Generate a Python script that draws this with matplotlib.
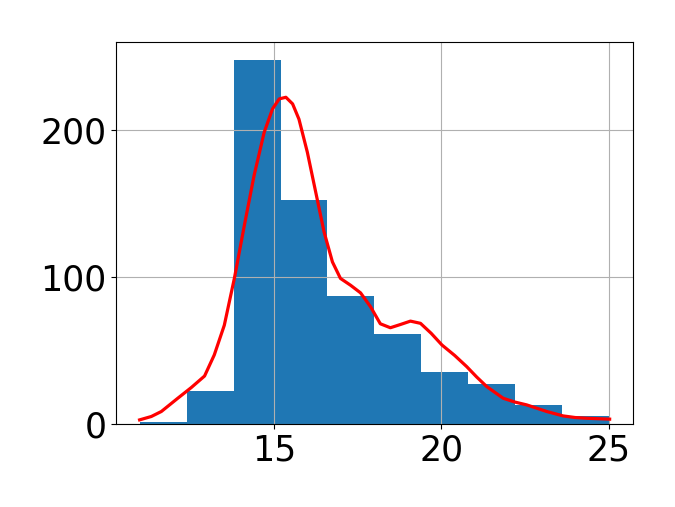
import matplotlib
matplotlib.use("Agg")
import matplotlib.pyplot as plt
import numpy as np

bin_edges = [11.0, 12.4, 13.8, 15.2, 16.6, 18.0, 19.4, 20.8, 22.2, 23.6, 25.0]
counts = [1, 22, 247, 152, 87, 61, 35, 27, 13, 5]

curve_x = [10.99, 11.34, 11.64, 12.13, 12.53, 12.93, 13.22, 13.52, 13.82, 14.12,
           14.41, 14.71, 14.96, 15.16, 15.36, 15.56, 15.75, 16.0, 16.25, 16.5,
           16.75, 16.99, 17.29, 17.59, 17.89, 18.18, 18.48, 18.78, 19.08, 19.38,
           19.7, 20.02, 20.4, 20.76, 21.06, 21.36, 21.85, 22.2, 22.55, 23.15,
           23.64, 24.0, 24.34, 25.03]
curve_y = [2.7, 5.0, 8.4, 17.4, 24.6, 32.5, 46.8, 67, 98.8, 135,
           168.8, 198, 214, 220.8, 221.9, 217.4, 207, 184.6, 157.5, 130.4,
           110, 98.8, 94.2, 89, 79.5, 68, 65.3, 67.5, 69.8, 68.3,
           61.5, 53.6, 46.5, 38.9, 31.8, 25.3, 17.4, 14.8, 12.9, 8.4,
           5.4, 4.3, 3.8, 3.2]

fig = plt.figure(figsize=(6.75, 5.07), dpi=100)
ax = fig.add_axes([0.172, 0.164, 0.766, 0.753])
edges = np.array(bin_edges)
ax.bar(edges[:-1], counts, width=np.diff(edges), align="edge", color="#1f77b4")
ax.plot(curve_x, curve_y, color="red", lw=2.3, solid_joinstyle="round")
ax.grid(True)
ax.set_xticks([15, 20, 25])
ax.set_yticks([0, 100, 200])
ax.tick_params(labelsize=25)
ax.margins(x=0.05)
ax.set_ylim(0, 259.4)
fig.savefig("out.png", dpi=100)
